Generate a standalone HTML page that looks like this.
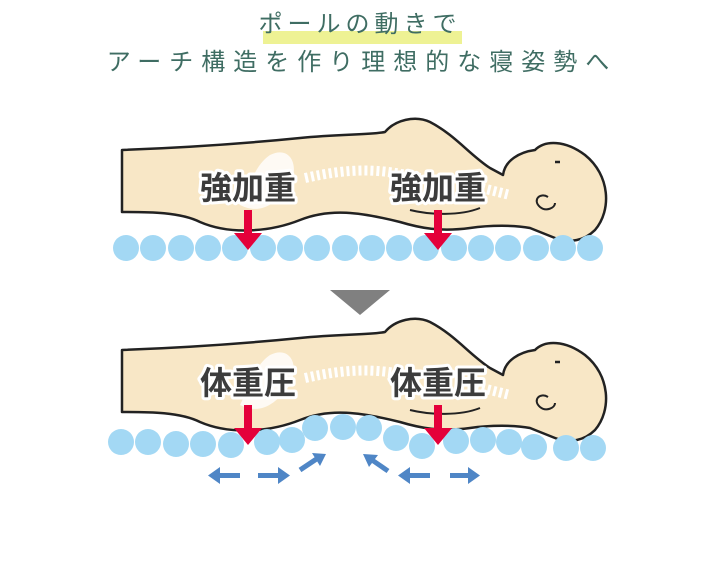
<!DOCTYPE html>
<html><head><meta charset="utf-8"><style>
html,body{margin:0;padding:0;background:#fff;width:720px;height:563px;overflow:hidden}
svg{display:block}
.t{font-family:"Liberation Sans","Noto Sans CJK JP",sans-serif;fill:#3f6d63;font-size:24px;letter-spacing:6px}
.l{font-family:"Liberation Sans","Noto Sans CJK JP",sans-serif;font-weight:bold;font-size:32px;fill:#3c3c3c;stroke:#fff;stroke-width:6px;paint-order:stroke;stroke-linejoin:round}
</style></head><body>
<svg width="720" height="563" viewBox="0 0 720 563">
<rect x="263" y="31" width="199" height="13" fill="#eef294"/>
<text class="t" x="360" y="32" text-anchor="middle" style="letter-spacing:5px">ポールの動きで</text>
<text class="t" x="362" y="70" text-anchor="middle" style="letter-spacing:8px">アーチ構造を作り理想的な寝姿勢へ</text>

<g id="body1">
<path d="M122,150 C200,147 260,142 300,138 C340,134 370,135 385,132 C395,120 415,115 430,122 C455,135 470,155 490,168 L503,175 C505,160 520,152 535,150 C545,140 565,140 585,155 C610,175 612,210 595,230 C585,240 570,244 555,238 L530,228 C515,225 490,225 470,228 C440,232 420,228 400,222 C360,212 330,208 300,220 C270,232 230,235 200,222 C180,212 150,212 122,212 Z" fill="#f8e7c6" stroke="#222" stroke-width="2.5" stroke-linejoin="round"/>
<path d="M270,155 C290,145 300,165 290,185 C275,205 260,215 240,205 C250,185 255,165 270,155Z" fill="#fff" opacity=".8"/>
<path d="M305,178 C350,168 380,168 420,178 M470,185 L510,195" stroke="#fff" stroke-width="10" stroke-dasharray="3 3" fill="none"/>
<path d="M410,210 C430,215 460,216 480,208" stroke="#222" stroke-width="2" fill="none"/>
<path d="M548,197 C540,192 532,200 540,207 C546,212 555,208 555,203" stroke="#222" stroke-width="2" fill="none"/>
<path d="M555,162 L560,162" stroke="#222" stroke-width="2.5"/>
</g>
<g fill="#a3d8f4">
<circle cx="126" cy="248" r="13"/><circle cx="153" cy="248" r="13"/><circle cx="181" cy="248" r="13"/><circle cx="208" cy="248" r="13"/><circle cx="235" cy="248" r="13"/><circle cx="263" cy="248" r="13"/><circle cx="290" cy="248" r="13"/><circle cx="317" cy="248" r="13"/><circle cx="345" cy="248" r="13"/><circle cx="372" cy="248" r="13"/><circle cx="399" cy="248" r="13"/><circle cx="426" cy="248" r="13"/><circle cx="454" cy="248" r="13"/><circle cx="481" cy="248" r="13"/><circle cx="508" cy="248" r="13"/><circle cx="536" cy="248" r="13"/><circle cx="563" cy="248" r="13"/><circle cx="590" cy="248" r="13"/>
</g>
<text class="l" x="248" y="199" text-anchor="middle">強加重</text>
<text class="l" x="438" y="199" text-anchor="middle">強加重</text>
<g fill="#e4003a">
<rect x="244" y="210" width="8" height="24"/><polygon points="234,233 262,233 248,250"/>
<rect x="434" y="210" width="8" height="24"/><polygon points="424,233 452,233 438,250"/>
</g>

<polygon points="330,290 390,290 360,315" fill="#808080"/>

<use href="#body1" transform="translate(0,200)"/>
<g fill="#a3d8f4">
<circle cx="121" cy="442" r="13"/><circle cx="148" cy="442" r="13"/><circle cx="176" cy="444" r="13"/><circle cx="203" cy="444" r="13"/><circle cx="231" cy="445" r="13"/><circle cx="267" cy="442" r="13"/><circle cx="292" cy="440" r="13"/><circle cx="315" cy="428" r="13"/><circle cx="343" cy="427" r="13"/><circle cx="369" cy="428" r="13"/><circle cx="396" cy="438" r="13"/><circle cx="422" cy="446" r="13"/><circle cx="456" cy="441" r="13"/><circle cx="483" cy="440" r="13"/><circle cx="509" cy="442" r="13"/><circle cx="534" cy="447" r="13"/><circle cx="566" cy="448" r="13"/><circle cx="593" cy="448" r="13"/>
</g>
<text class="l" x="248" y="394" text-anchor="middle">体重圧</text>
<text class="l" x="438" y="394" text-anchor="middle">体重圧</text>
<g fill="#e4003a">
<rect x="244" y="405" width="8" height="24"/><polygon points="234,428 262,428 248,445"/>
<rect x="434" y="405" width="8" height="24"/><polygon points="424,428 452,428 438,445"/>
</g>
<g fill="#4f86c6">
<rect x="218" y="473" width="22" height="5"/><polygon points="208,475.5 220,467 220,484"/>
<rect x="258" y="473" width="22" height="5"/><polygon points="290,475.5 278,467 278,484"/>
<rect x="408" y="473" width="22" height="5"/><polygon points="398,475.5 410,467 410,484"/>
<rect x="450" y="473" width="20" height="5"/><polygon points="480,475.5 468,467 468,484"/>
<path d="M300,470 L318,458" stroke="#4f86c6" stroke-width="5"/><polygon points="326,454 312,453 320,466"/>
<path d="M388,471 L372,460" stroke="#4f86c6" stroke-width="5"/><polygon points="363,454 378,455 369,467"/>
</g>
</svg>
</body></html>
